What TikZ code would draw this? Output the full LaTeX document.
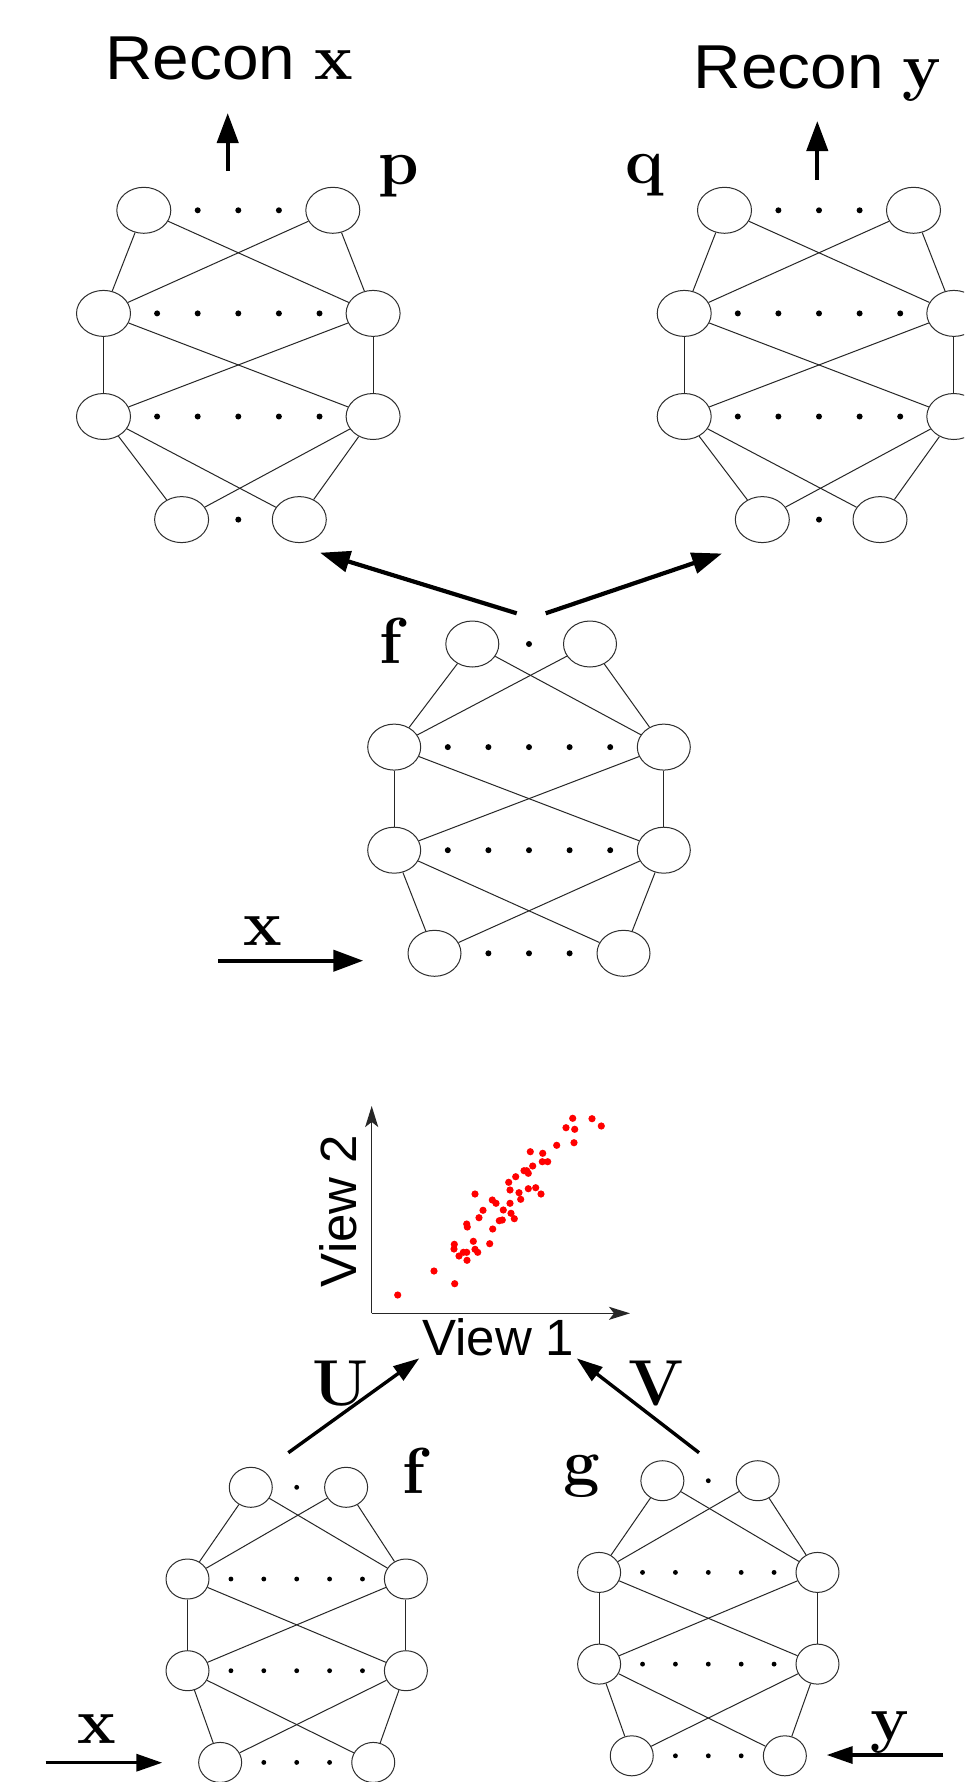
\documentclass[tikz,border=0pt]{standalone}
\usepackage{fontspec}
\newfontfamily\helv{Liberation Sans}
\usetikzlibrary{shapes.geometric, arrows.meta}

\tikzset{
  netunit/.style={ellipse, draw=black!82, line width=1pt, inner sep=0pt, fill=white},
  netlink/.style={draw=black!85, line width=1pt},
  bigflow/.style={line width=4.2pt, -{Triangle[length=30pt,width=21pt]}},
  smallflow/.style={line width=3.4pt, -{Triangle[length=26pt,width=17pt]}},
  plotaxis/.style={line width=1.4pt, draw=black!85, -{Stealth[length=21pt,width=13pt,inset=5pt]}},
  boldsym/.style={inner sep=0pt, anchor=base, font=\fontsize{65}{70}\selectfont\bfseries},
  sanslabel/.style={inner sep=0pt, anchor=base, font=\fontsize{51}{60}\selectfont\helv},
  sample/.style={fill=red},
}

% A four-layer network: row 0 holds two units with a single dot between them,
% rows 1 and 2 hold two units with five dots, row 3 holds two units with three dots.
% #1 name prefix, #2 centre x, #3 y of row 0, #4 row step, #5 horizontal scale,
% #6 unit width, #7 unit height
\newcommand{\mlpnet}[7]{%
  \foreach \k/\xl/\xr in {0/-56.7/61, 1/-134.8/134.8, 2/-134.8/134.8, 3/-94.5/94.5} {
    \node[netunit, minimum width=#6pt, minimum height=#7pt] (#1l\k) at ({#2+\xl*#5}, {#3+\k*(#4)}) {};
    \node[netunit, minimum width=#6pt, minimum height=#7pt] (#1r\k) at ({#2+\xr*#5}, {#3+\k*(#4)}) {};
  }
  \foreach \a/\b in {0/1, 1/2, 2/3} {
    \draw[netlink] (#1l\a) -- (#1l\b);
    \draw[netlink] (#1r\a) -- (#1r\b);
    \draw[netlink] (#1l\a) -- (#1r\b);
    \draw[netlink] (#1r\a) -- (#1l\b);
  }
  \fill ({#2}, {#3}) circle ({3pt*#5});
  \foreach \d in {-2,...,2} {
    \fill ({#2+\d*40.6*#5}, {#3+(#4)}) circle ({3pt*#5});
    \fill ({#2+\d*40.6*#5}, {#3+2*(#4)}) circle ({3pt*#5});
  }
  \foreach \d in {-1,0,1} {
    \fill ({#2+\d*40.6*#5}, {#3+3*(#4)}) circle ({3pt*#5});
  }
}

\begin{document}
\begin{tikzpicture}[x=1pt, y=-1pt]
  \clip (0,0) rectangle (964,1782);
  \fill[white] (0,0) rectangle (964,1782);

  % ---------- autoencoder: shared encoder f, decoders p and q ----------
  \mlpnet{p}{238.3}{519.6}{-103.1}{1}{54}{46}
  \mlpnet{q}{819}{519.6}{-103.1}{1}{54}{46}
  \mlpnet{f}{529}{644}{103.1}{1}{53}{46}

  \node[inner sep=0pt, anchor=base] (reconx) at (229, 80)
    {\fontsize{62}{70}\selectfont\scalebox{1.06}[1]{\helv Recon}\ {\fontsize{65}{70}\selectfont\bfseries x}};
  \node[inner sep=0pt, anchor=base] (recony) at (817.3, 89)
    {\fontsize{62}{70}\selectfont\scalebox{1.06}[1]{\helv Recon}\ {\fontsize{65}{70}\selectfont\bfseries y}};

  \coordinate (pout0) at (227.7, 171);
  \coordinate (pout1) at (227.7, 113);
  \coordinate (qout0) at (817.3, 180);
  \coordinate (qout1) at (817.3, 121);
  \draw[bigflow] (pout0) -- (pout1);
  \draw[bigflow] (qout0) -- (qout1);

  \node[boldsym] (plabel) at (399, 184) {p};
  \node[boldsym] (qlabel) at (645, 183) {q};
  \node[boldsym] (flabel) at (391, 663) {f};
  \node[boldsym] (xlabel) at (263, 945) {x};

  \coordinate (fcodeL) at (516.7, 613.3);
  \coordinate (fcodeR) at (545.7, 613.3);
  \coordinate (pin) at (320, 552.7);
  \coordinate (qin) at (722, 553.5);
  \draw[bigflow] (fcodeL) -- (pin);
  \draw[bigflow] (fcodeR) -- (qin);

  \coordinate (xsrc) at (218.3, 960.7);
  \coordinate (xdst) at (363.3, 960.7);
  \draw[bigflow] (xsrc) -- (xdst);

  % ---------- correlation of two views ----------
  \coordinate (origin) at (371.7, 1313.3);
  \coordinate (xend) at (630, 1313.3);
  \coordinate (yend) at (371.7, 1106);
  \draw[plotaxis] (origin) -- (xend);
  \draw[plotaxis] (origin) -- (yend);

  \foreach \px/\py in {397.7/1295, 434/1271, 454.7/1283.7, 454.3/1244.3, 454/1249,
      459/1256, 463.3/1252.3, 466.7/1252.3, 467/1260.3, 473.3/1241.3, 475/1249.3,
      477.7/1252.3, 466.7/1224, 467.3/1227, 475/1194, 479/1217.7, 483/1210.3,
      489.7/1243.7, 492.7/1229, 492.3/1200, 496/1203.3, 499.3/1220.7, 502.3/1220,
      503.3/1210, 510/1203.3, 511/1213.3, 514.3/1218.7, 508.7/1182.3, 510/1190,
      515.7/1176.7, 519/1192.7, 520.7/1199.3, 524/1170.7, 526.7/1170.7, 528.3/1173.3,
      528.3/1188.7, 532.7/1166, 535.7/1187.7, 541/1194, 530.3/1151.7, 542.7/1153.3,
      542.3/1161.7, 547.7/1161.7, 556.7/1145.3, 566/1127.7, 572.7/1118.3,
      574.7/1129.3, 574/1142.7, 592/1118.7, 601.3/1126} {
    \fill[sample] (\px, \py) circle (3.6pt);
  }

  \node[sanslabel] (view1) at (498.3, 1355) {View 1};
  \node[sanslabel, rotate=90] (view2) at (356.7, 1211) {View 2};

  % ---------- two encoders f and g ----------
  \mlpnet{b}{296.7}{1487.3}{91.7}{0.81}{43}{40}
  \mlpnet{g}{708.3}{1480.7}{91.7}{0.81}{43}{40}

  \node[boldsym] (flabelb) at (414, 1493) {f};
  \node[boldsym] (glabel) at (581.7, 1484) {g};
  \node[boldsym] (ulabel) at (341, 1405) {U};
  \node[boldsym] (vlabel) at (656, 1405) {V};
  \node[boldsym] (xlabelb) at (96.7, 1743) {x};
  \node[boldsym] (ylabel) at (890, 1740) {y};

  \coordinate (bcode) at (288.3, 1452.7);
  \coordinate (uend) at (419.3, 1358.3);
  \coordinate (gcode) at (699, 1452.7);
  \coordinate (vend) at (576.7, 1358.3);
  \draw[smallflow] (bcode) -- (uend);
  \draw[smallflow] (gcode) -- (vend);

  \coordinate (xsrcb) at (45.7, 1762.7);
  \coordinate (xdstb) at (162.3, 1762.7);
  \coordinate (ysrc) at (943.3, 1755);
  \coordinate (ydst) at (826.7, 1755);
  \draw[smallflow] (xsrcb) -- (xdstb);
  \draw[smallflow] (ysrc) -- (ydst);
\end{tikzpicture}
\end{document}
